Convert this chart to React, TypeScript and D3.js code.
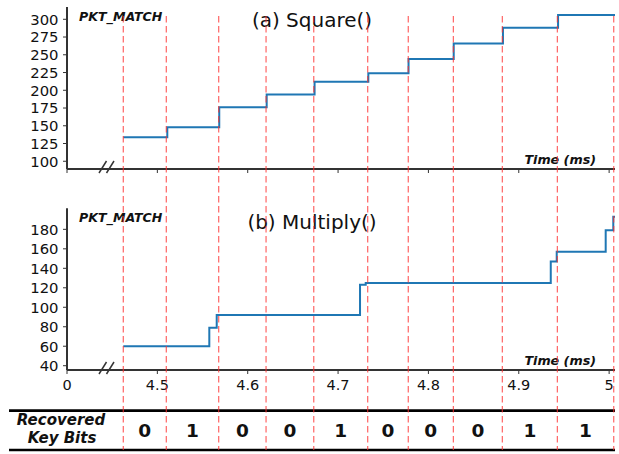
import React from "react";
import * as d3 from "d3";

const squareTimes = [4.4623, 4.511, 4.5685, 4.621, 4.674, 4.7335, 4.778, 4.828, 4.8825, 4.9435, 5.0065];
const squareValues = [134, 148, 176, 194, 212, 224, 244, 266, 288, 306, 306];
const multiplyTimes = [4.4623, 4.5575, 4.5657, 4.7243, 4.7306, 4.9354, 4.942, 4.9962, 5.0046, 5.0065];
const multiplyValues = [60, 79, 92, 123, 125, 147, 157, 179, 193, 193];
const boundaryTimes = [4.4623, 4.5099, 4.5679, 4.6203, 4.6731, 4.7328, 4.7777, 4.8276, 4.8818, 4.9427, 5.0051];
const keyBits = ["0", "1", "0", "0", "1", "0", "0", "0", "1", "1"];
const xTickValues = [4.4, 4.5, 4.6, 4.7, 4.8, 4.9, 5.0];
const xTickLabels = ["0", "4.5", "4.6", "4.7", "4.8", "4.9", "5"];
const squareTicks = [100, 125, 150, 175, 200, 225, 250, 275, 300];
const multiplyTicks = [40, 60, 80, 100, 120, 140, 160, 180];

const FONT = "DejaVu Sans";
const X0 = 67;
const X1 = 615;

export default function App() {
  const x = d3.scaleLinear().domain([4.4, 5.0065]).range([X0, X1]);
  const yA = d3.scaleLinear().domain([89.1, 317.3]).range([169, 7]);
  const yB = d3.scaleLinear().domain([35.6, 201.6]).range([370, 208.3]);

  const lineA = d3
    .line<number>()
    .x((_, i) => x(squareTimes[i]))
    .y((v) => yA(v))
    .curve(d3.curveStepAfter);
  const lineB = d3
    .line<number>()
    .x((_, i) => x(multiplyTimes[i]))
    .y((v) => yB(v))
    .curve(d3.curveStepAfter);

  const axisColor = "#333";

  const panel = (
    y: d3.ScaleLinear<number, number>,
    ticks: number[],
    bottom: number,
    top: number,
    path: string,
    title: string,
    titleY: number,
    pktY: number,
    timeY: number,
    showXLabels: boolean
  ) => (
    <g>
      <path d={path} fill="none" stroke="#1f77b4" strokeWidth={2} />
      {/* left spine */}
      <line x1={X0} x2={X0} y1={top} y2={bottom} stroke={axisColor} strokeWidth={2} />
      {/* bottom spine */}
      <line x1={X0} x2={X1} y1={bottom} y2={bottom} stroke={axisColor} strokeWidth={2} />
      {ticks.map((t) => (
        <g key={t}>
          <line x1={X0 - 4} x2={X0} y1={y(t)} y2={y(t)} stroke={axisColor} strokeWidth={1} />
          <text x={58.5} y={y(t)} dy="0.36em" textAnchor="end" fontFamily={FONT} fontSize={14.8} fill="#111">
            {t}
          </text>
        </g>
      ))}
      {xTickValues.map((t, i) => (
        <g key={t}>
          <line x1={x(t)} x2={x(t)} y1={bottom} y2={bottom + 4} stroke={axisColor} strokeWidth={1} />
          {showXLabels && (
            <text x={x(t)} y={390} textAnchor="middle" fontFamily={FONT} fontSize={14.5} fill="#111">
              {xTickLabels[i]}
            </text>
          )}
        </g>
      ))}
      {/* break marks */}
      <line x1={99} y1={bottom + 4} x2={106.5} y2={bottom - 8} stroke={axisColor} strokeWidth={1.5} />
      <line x1={106.5} y1={bottom + 4} x2={114} y2={bottom - 8} stroke={axisColor} strokeWidth={1.5} />
      <text x={79} y={pktY} fontFamily={FONT} fontSize={12.6} fontWeight="bold" fontStyle="italic" fill="#111">
        PKT_MATCH
      </text>
      <text x={312} y={titleY} textAnchor="middle" fontFamily={FONT} fontSize={20} fill="#111">
        {title}
      </text>
      <text x={596} y={timeY} textAnchor="end" fontFamily={FONT} fontSize={12.7} fontWeight="bold" fontStyle="italic" fill="#111">
        Time (ms)
      </text>
    </g>
  );

  return (
    <svg width={619} height={454} style={{ position: "absolute", left: 0, top: 0, background: "#fff" }}>
      <rect width={619} height={454} fill="#fff" />
      {panel(yA, squareTicks, 169, 7, lineA(squareValues) || "", "(a) Square()", 27, 21, 163.5, false)}
      {panel(yB, multiplyTicks, 370, 208.3, lineB(multiplyValues) || "", "(b) Multiply()", 229, 222, 364.5, true)}
      {/* table */}
      <line x1={9} x2={615} y1={410.7} y2={410.7} stroke="#000" strokeWidth={2.7} />
      <line x1={9} x2={615} y1={450} y2={450} stroke="#000" strokeWidth={2.7} />
      <text x={61} y={425} textAnchor="middle" fontFamily={FONT} fontSize={15} fontWeight="bold" fontStyle="italic" fill="#111">
        Recovered
      </text>
      <text x={62} y={442.5} textAnchor="middle" fontFamily={FONT} fontSize={15} fontWeight="bold" fontStyle="italic" fill="#111">
        Key Bits
      </text>
      {keyBits.map((b, i) => (
        <text
          key={i}
          x={(x(boundaryTimes[i]) + x(boundaryTimes[i + 1])) / 2}
          y={436.7}
          textAnchor="middle"
          fontFamily={FONT}
          fontSize={18.5}
          fontWeight="bold"
          fill="#111"
        >
          {b}
        </text>
      ))}
      {boundaryTimes.map((t, i) => (
        <line
          key={i}
          x1={x(t)}
          x2={x(t)}
          y1={16}
          y2={450}
          stroke="#ff3030"
          strokeOpacity={0.75}
          strokeWidth={1.2}
          strokeDasharray="6.5,3.5"
        />
      ))}
    </svg>
  );
}
